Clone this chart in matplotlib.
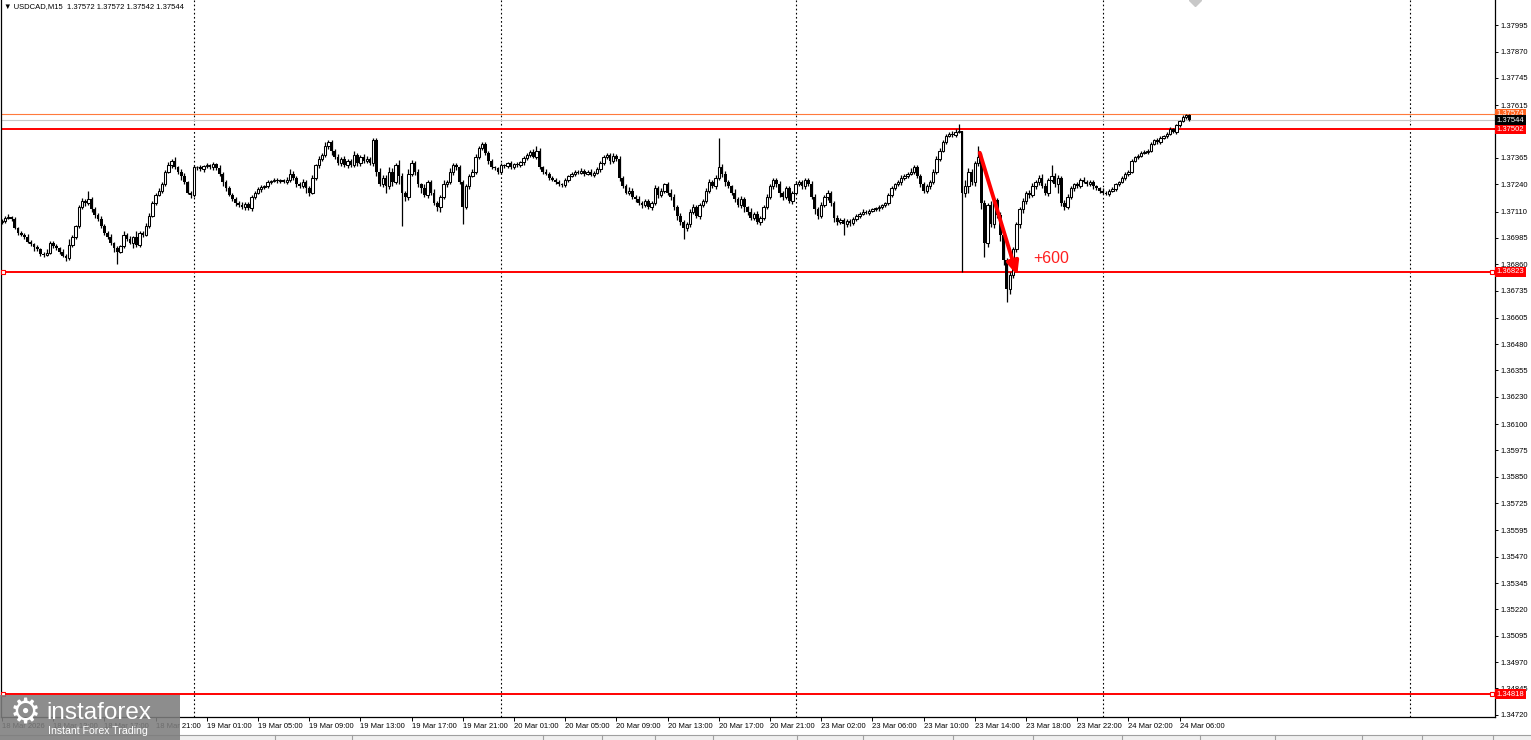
import numpy as np
import matplotlib
matplotlib.use('Agg')
import matplotlib.pyplot as plt
from matplotlib import font_manager
from matplotlib.patches import Rectangle, FancyArrowPatch

# USDCAD M15, bars from 18 Mar 09:00 to 24 Mar 06:45
# prices are kept in points above 1.36000 (1 point = 0.00001)
base_price = 1.36
first_open = 1060
close_pts = [
    1065, 1080, 1085, 1075, 1030, 1010, 1000, 990, 965, 955, 940, 930, 910, 905, 915, 960,
    945, 935, 920, 900, 890, 950, 990, 1040, 1130, 1160, 1150, 1170, 1120, 1095, 1075, 1040,
    1010, 990, 960, 935, 920, 945, 1000, 980, 960, 990, 950, 1010, 1000, 1040, 1090, 1150,
    1190, 1210, 1240, 1300, 1330, 1350, 1320, 1300, 1280, 1250, 1200, 1190, 1320, 1320, 1310, 1325,
    1330, 1320, 1335, 1315, 1290, 1250, 1220, 1190, 1170, 1150, 1140, 1130, 1145, 1125, 1180, 1200,
    1215, 1225, 1230, 1250, 1255, 1260, 1255, 1258, 1250, 1262, 1290, 1270, 1240, 1230, 1250, 1220,
    1200, 1270, 1330, 1360, 1380, 1420, 1440, 1400, 1370, 1340, 1360, 1330, 1350, 1330, 1380, 1340,
    1370, 1350, 1360, 1340, 1450, 1300, 1240, 1270, 1230, 1300, 1250, 1330, 1280, 1200, 1180, 1290,
    1340, 1300, 1240, 1220, 1190, 1250, 1200, 1150, 1130, 1180, 1240, 1250, 1300, 1330, 1320, 1250,
    1130, 1230, 1280, 1300, 1370, 1410, 1430, 1390, 1350, 1320, 1315, 1300, 1330, 1325, 1340, 1320,
    1335, 1330, 1345, 1365, 1380, 1395, 1370, 1400, 1320, 1300, 1290, 1270, 1260, 1250, 1240, 1235,
    1260, 1280, 1290, 1300, 1295, 1305, 1290, 1300, 1285, 1295, 1310, 1340, 1370, 1380, 1350, 1375,
    1360, 1270, 1230, 1200, 1210, 1180, 1170, 1150, 1140, 1160, 1130, 1150, 1220, 1190, 1210, 1240,
    1200, 1180, 1130, 1090, 1060, 1030, 1050, 1110, 1130, 1090, 1140, 1160, 1210, 1250, 1230, 1270,
    1320, 1290, 1250, 1230, 1200, 1170, 1140, 1170, 1130, 1110, 1080, 1100, 1060, 1080, 1130, 1180,
    1230, 1260, 1240, 1200, 1180, 1220, 1160, 1200, 1240, 1250, 1230, 1260, 1240, 1180, 1120, 1090,
    1140, 1180, 1200, 1150, 1080, 1060, 1070, 1050, 1065, 1055, 1075, 1090, 1100, 1110, 1105, 1115,
    1120, 1125, 1130, 1140, 1150, 1190, 1220, 1240, 1250, 1270, 1280, 1290, 1300, 1320, 1280, 1240,
    1210, 1230, 1250, 1300, 1360, 1400, 1440, 1470, 1480, 1475, 1490, 1495, 1200, 1230, 1300, 1250,
    1340, 1370, 1150, 960, 1140, 1050, 1165, 1095, 1000, 880, 740, 810, 930, 1050, 1120, 1160,
    1200, 1190, 1230, 1250, 1270, 1230, 1200, 1260, 1280, 1240, 1270, 1150, 1130, 1180, 1220, 1240,
    1230, 1260, 1250, 1240, 1250, 1230, 1220, 1210, 1200, 1195, 1210, 1215, 1240, 1250, 1270, 1290,
    1300, 1350, 1370, 1375, 1390, 1395, 1400, 1430, 1450, 1440, 1460, 1470, 1480, 1500, 1490, 1520,
    1540, 1560, 1570, 1544,
]
# wick lengths above the body top / below the body bottom, in points
wick_up = [
    10, 8, 12, 6, 8, 5, 10, 6, 12, 8, 5, 10, 6, 8, 15, 10,
    8, 10, 6, 12, 8, 30, 10, 8, 12, 15, 10, 40, 8, 10, 6, 12,
    10, 8, 12, 6, 10, 8, 20, 10, 12, 6, 30, 10, 8, 15, 12, 10,
    8, 12, 10, 6, 15, 10, 20, 8, 10, 12, 6, 10, 12, 8, 10, 6,
    12, 8, 10, 6, 15, 10, 8, 12, 6, 10, 8, 15, 10, 12, 8, 10,
    10, 12, 8, 10, 6, 8, 10, 6, 8, 10, 20, 12, 8, 10, 15, 8,
    10, 12, 8, 15, 10, 20, 10, 12, 8, 15, 10, 12, 8, 10, 20, 8,
    10, 15, 12, 10, 10, 8, 15, 15, 12, 20, 15, 10, 25, 12, 10, 20,
    15, 10, 12, 8, 20, 10, 12, 15, 10, 8, 20, 12, 15, 10, 12, 10,
    10, 12, 8, 10, 15, 10, 12, 10, 8, 10, 6, 8, 10, 8, 6, 10,
    8, 10, 6, 8, 10, 8, 12, 20, 10, 8, 12, 6, 10, 8, 10, 6,
    8, 6, 10, 8, 6, 10, 8, 6, 10, 8, 12, 10, 8, 6, 10, 12,
    10, 12, 8, 10, 15, 10, 8, 12, 10, 8, 12, 10, 15, 10, 12, 8,
    10, 15, 12, 10, 15, 8, 12, 10, 15, 12, 10, 8, 12, 15, 10, 12,
    140, 15, 12, 10, 8, 15, 10, 12, 10, 8, 15, 10, 12, 8, 10, 15,
    12, 10, 8, 15, 10, 12, 10, 8, 15, 10, 12, 8, 10, 15, 12, 10,
    15, 10, 12, 8, 10, 12, 8, 10, 12, 8, 10, 8, 6, 10, 8, 6,
    8, 6, 10, 8, 6, 10, 12, 8, 10, 12, 8, 10, 15, 10, 12, 8,
    10, 12, 8, 10, 15, 10, 12, 8, 10, 12, 10, 30, 0, 30, 15, 10,
    12, 50, 20, 15, 10, 20, 15, 10, 12, 10, 8, 15, 12, 10, 12, 15,
    10, 12, 15, 10, 12, 20, 15, 10, 50, 15, 12, 10, 15, 12, 10, 8,
    10, 8, 12, 10, 8, 10, 6, 8, 10, 6, 8, 10, 8, 6, 10, 8,
    8, 10, 6, 8, 10, 6, 8, 10, 6, 8, 10, 6, 8, 10, 6, 8,
    6, 8, 4, 2,
]
wick_dn = [
    8, 10, 6, 12, 5, 10, 8, 12, 6, 10, 15, 8, 10, 12, 6, 8,
    10, 8, 12, 6, 15, 10, 8, 12, 10, 6, 12, 8, 10, 15, 8, 10,
    12, 10, 8, 15, 60, 8, 10, 12, 6, 25, 10, 8, 12, 6, 10, 8,
    10, 8, 12, 10, 6, 15, 8, 12, 20, 10, 8, 15, 10, 12, 8, 10,
    8, 10, 12, 6, 10, 20, 12, 8, 10, 15, 10, 8, 12, 6, 10, 8,
    8, 10, 6, 8, 10, 6, 8, 10, 6, 8, 12, 10, 15, 8, 10, 20,
    15, 8, 10, 12, 8, 10, 15, 20, 10, 8, 12, 10, 15, 8, 10, 12,
    12, 10, 8, 10, 15, 20, 10, 12, 30, 15, 20, 10, 40, 160, 20, 15,
    10, 15, 12, 20, 10, 15, 12, 10, 15, 20, 10, 12, 8, 15, 12, 10,
    80, 10, 12, 8, 10, 12, 8, 10, 12, 10, 8, 12, 10, 6, 8, 10,
    6, 8, 10, 12, 8, 10, 6, 8, 10, 12, 8, 10, 6, 8, 10, 8,
    10, 8, 6, 10, 8, 6, 10, 8, 6, 10, 8, 12, 10, 8, 12, 10,
    12, 15, 10, 8, 12, 10, 15, 8, 12, 10, 8, 12, 10, 15, 10, 12,
    10, 15, 12, 20, 15, 50, 12, 15, 10, 12, 15, 10, 8, 12, 10, 15,
    12, 15, 20, 10, 12, 15, 10, 12, 20, 15, 10, 12, 8, 15, 12, 10,
    10, 12, 15, 20, 15, 12, 10, 12, 8, 10, 12, 15, 10, 12, 20, 15,
    12, 10, 15, 12, 20, 15, 10, 50, 12, 15, 10, 8, 10, 6, 8, 10,
    6, 8, 10, 6, 8, 10, 12, 8, 10, 12, 8, 10, 8, 12, 10, 15,
    12, 10, 15, 8, 10, 12, 8, 10, 8, 10, 12, 8, 377, 20, 30, 15,
    20, 15, 30, 65, 20, 15, 20, 15, 30, 25, 60, 20, 15, 12, 20, 15,
    12, 15, 10, 12, 15, 10, 12, 15, 10, 12, 40, 15, 12, 10, 8, 12,
    8, 10, 6, 8, 10, 12, 8, 10, 6, 8, 10, 6, 8, 10, 6, 8,
    10, 8, 6, 10, 8, 6, 10, 8, 6, 10, 8, 6, 10, 8, 6, 10,
    8, 6, 10, 2,
]

time_labels = ['18 Mar 2026', '18 Mar 13:00', '18 Mar 17:00', '18 Mar 21:00',
               '19 Mar 01:00', '19 Mar 05:00', '19 Mar 09:00', '19 Mar 13:00',
               '19 Mar 17:00', '19 Mar 21:00', '20 Mar 01:00', '20 Mar 05:00',
               '20 Mar 09:00', '20 Mar 13:00', '20 Mar 17:00', '20 Mar 21:00',
               '23 Mar 02:00', '23 Mar 06:00', '23 Mar 10:00', '23 Mar 14:00',
               '23 Mar 18:00', '23 Mar 22:00', '24 Mar 02:00', '24 Mar 06:00']
label_bars = [0, 16, 32, 48, 64, 80, 96, 112, 128, 144, 160, 176,
              192, 208, 224, 240, 256, 272, 288, 304, 320, 336, 352, 368]
day_sep_bars = [60, 156, 248, 344, 440]

price_ticks = [1.37995, 1.37870, 1.37745, 1.37615, 1.37365, 1.37240, 1.37110,
               1.36985, 1.36860, 1.36735, 1.36605, 1.36480, 1.36355, 1.36230,
               1.36100, 1.35975, 1.35850, 1.35725, 1.35595, 1.35470, 1.35345,
               1.35220, 1.35095, 1.34970, 1.34845, 1.34720]

level_prices = [1.37574, 1.37502, 1.37544, 1.36823, 1.34818]
level_line_colors = ['#ff7a3c', '#ff0000', '#c8c8c8', '#ff0000', '#ff0000']
level_box_colors = ['#ff6420', '#ff0000', '#000000', '#ff0000', '#ff0000']

arrow_from = (305.3, 1.37402)
arrow_to = (317.5, 1.36794)
profit_text = '+600'
header = '\u25bc USDCAD,M15  1.37572 1.37572 1.37542 1.37544'

# ---- figure ----
W, H = 1531, 740
fig = plt.figure(figsize=(W / 100, H / 100), dpi=100)
fig.patch.set_facecolor('white')

names = {f.name for f in font_manager.fontManager.ttflist}
if 'Liberation Sans Narrow' in names:
    small_font, small_size = 'Liberation Sans Narrow', 6.4
else:
    small_font, small_size = 'Liberation Sans', 5.5
plt.rcParams['font.family'] = [small_font, 'DejaVu Sans']

ax = fig.add_axes([1 / W, 23 / H, 1494 / W, 717 / H])
ax.set_xlim(-0.3125, 466.5625)
ax.set_ylim(1.34709, 1.38115)

opens = np.array([first_open] + close_pts[:-1], dtype=float)
closes = np.array(close_pts, dtype=float)
tops = np.maximum(opens, closes)
bots = np.minimum(opens, closes)
highs = base_price + (tops + np.array(wick_up)) / 1e5
lows = base_price + (bots - np.array(wick_dn)) / 1e5
o = base_price + opens / 1e5
c = base_price + closes / 1e5
x = np.arange(len(close_pts))

for b in day_sep_bars:
    ax.axvline(b, color='black', lw=0.8, ls=(0, (1.5, 2.2)), zorder=1)

ax.vlines(x, lows, highs, color='black', lw=0.9, zorder=3)
bull = closes > opens
bear = closes < opens
flat = closes == opens
ax.bar(x[bull], (c - o)[bull], bottom=o[bull], width=0.78, facecolor='white',
       edgecolor='black', linewidth=0.75, zorder=4)
ax.bar(x[bear], (o - c)[bear], bottom=c[bear], width=0.85, color='black',
       linewidth=0, zorder=4)
ax.hlines(c[flat], x[flat] - 0.4, x[flat] + 0.4, color='black', lw=0.9, zorder=4)

# horizontal levels and their price boxes on the right axis
for i, (p, lc, bc) in enumerate(zip(level_prices, level_line_colors, level_box_colors)):
    lw = 0.8 if lc in ('#ff7a3c', '#c8c8c8') else 1.4
    ax.axhline(p, color=lc, lw=lw, zorder=2)
    ax.text(1.0012, p, f'{p:.5f}', transform=ax.get_yaxis_transform(), ha='left',
            va='center', color='white', fontsize=small_size, clip_on=False,
            zorder=10 + (2 if bc == '#000000' else i),
            bbox=dict(boxstyle='square,pad=0.22', fc=bc, ec='none'))
for p in level_prices[3:]:
    ax.plot([0.31, 465.6], [p, p], ls='none', marker='s', ms=3.5, mfc='white',
            mec='#ff0000', mew=0.8, zorder=6, clip_on=False)

arrow = FancyArrowPatch(arrow_from, arrow_to, arrowstyle='-|>,head_length=5,head_width=2.2',
                        color='#ff0000', lw=2.8, mutation_scale=1.6, zorder=7)
ax.add_patch(arrow)
ax.text(322.2, 1.36889, profit_text, color='#ff1e1e', fontsize=11.5,
        family='Liberation Sans', ha='left', va='center', zorder=7)

# shift marker at top
ax.plot([372.8], [1.38115], marker='D', color='#c8c8c8', ms=6, zorder=5)

# axes styling
for s in ['left', 'bottom', 'right']:
    ax.spines[s].set_color('black')
    ax.spines[s].set_linewidth(0.9)
ax.spines['top'].set_visible(False)
ax.yaxis.tick_right()
ax.set_yticks(price_ticks)
ax.set_yticklabels([f'{p:.5f}' for p in price_ticks])
ax.tick_params(axis='y', length=2.5, width=0.7, pad=1.5, labelsize=small_size)
ax.set_xticks(label_bars)
ax.set_xticklabels(time_labels)
ax.tick_params(axis='x', length=3, width=0.7, pad=1.5, labelsize=small_size)
for lab in ax.get_xticklabels():
    lab.set_horizontalalignment('left')

fig.text(4 / W, 1 - 7 / H, header, fontsize=small_size, va='center', ha='left')

# terminal tab strip at the bottom
fig.patches.append(Rectangle((0, 0), 1, 5 / H, transform=fig.transFigure,
                             fc='#f0f0f0', ec='none', zorder=1))
fig.lines.append(plt.Line2D([0, 1], [5 / H, 5 / H], transform=fig.transFigure,
                            color='#a0a0a0', lw=0.8))
for tx in [275, 352, 543, 602, 655, 713, 797, 863, 953, 1033, 1122, 1200, 1275, 1362, 1422, 1493]:
    fig.lines.append(plt.Line2D([tx / W, tx / W], [0, 5 / H], transform=fig.transFigure,
                                color='#a0a0a0', lw=0.8))

# broker logo overlay
fig.patches.append(Rectangle((0, 0), 180 / W, 45 / H, transform=fig.transFigure,
                             fc='#7d7d7d', alpha=0.88, ec='none', zorder=20))
fig.text(25 / W, 1 - 714 / H, '\u2699', color='white', fontsize=25, family='DejaVu Sans',
         ha='center', va='center', zorder=21)
fig.text(46 / W, 1 - 713 / H, 'instaforex', color='white', fontsize=17.5,
         family='Liberation Sans', ha='left', va='center', zorder=21)
fig.text(48 / W, 1 - 731 / H, 'Instant Forex Trading', color='white', fontsize=7.6,
         family='Liberation Sans', ha='left', va='center', zorder=21)

fig.savefig('out.png', dpi=100)
